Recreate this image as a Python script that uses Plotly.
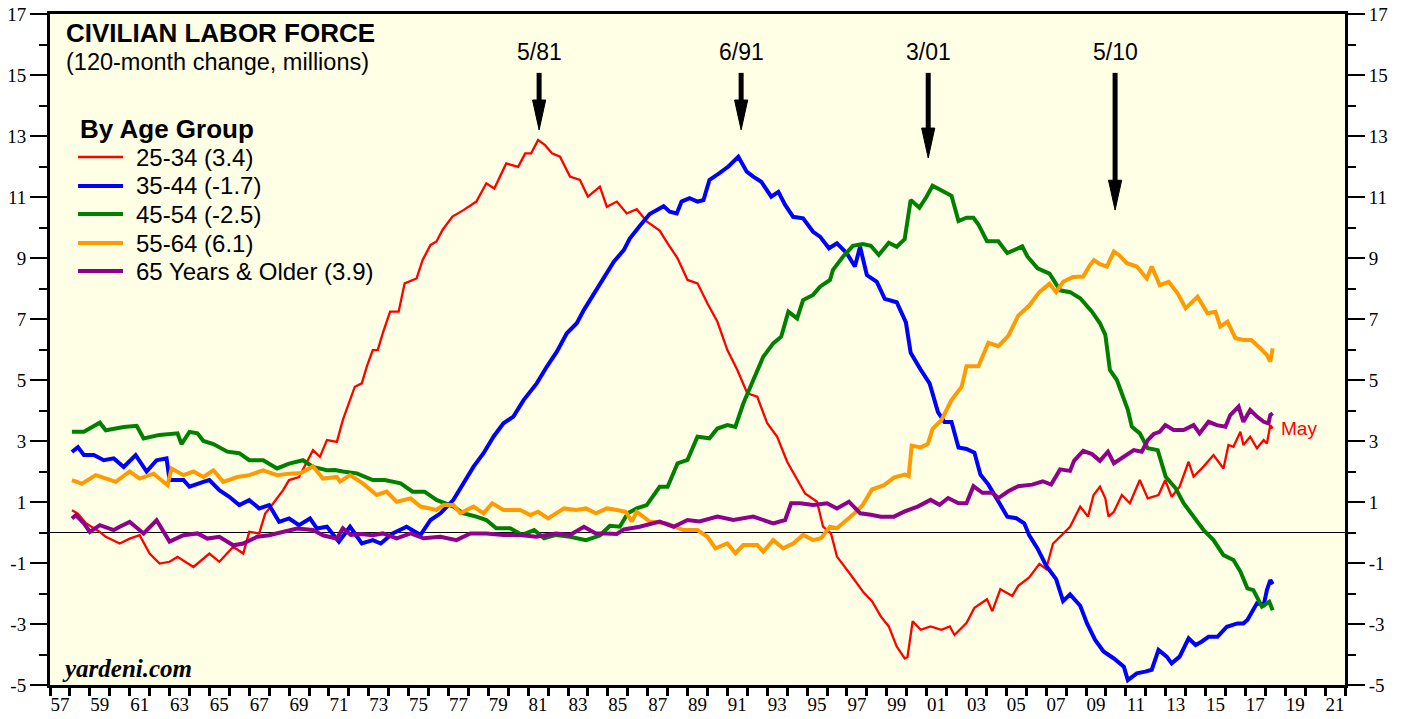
import plotly.graph_objects as go

# ---------------- data (120-month change, millions) ----------------
yrs_2534 = [1958.1,1958.4,1958.8,1959.5,1959.8,1960.5,1961.0,1961.5,1962.0,1962.5,1963.0,1963.4,1964.2,1965.0,1965.5,1966.2,1966.7,1967.0,1967.5,1967.8,1968.2,1968.7,1969.0,1969.5,1970.2,1970.55,1970.9,1971.4,1971.7,1972.0,1972.3,1972.65,1972.9,1973.2,1973.45,1973.7,1974.07,1974.5,1974.8,1975.4,1975.7,1976.1,1976.4,1976.7,1977.2,1977.75,1978.4,1978.9,1979.3,1979.9,1980.5,1980.85,1981.15,1981.5,1981.85,1982.2,1982.6,1983.1,1983.6,1984.0,1984.6,1984.95,1985.45,1985.95,1986.45,1986.95,1987.6,1988.0,1988.5,1989.0,1989.5,1990.0,1990.5,1991.0,1991.5,1992.0,1992.5,1993.0,1993.5,1994.0,1994.5,1994.9,1995.5,1995.8,1996.2,1996.5,1997.16,1997.84,1998.26,1998.7,1999.1,1999.5,1999.9,2000.04,2000.3,2000.7,2001.2,2001.74,2002.16,2002.4,2003.0,2003.4,2004.03,2004.3,2004.7,2005.3,2005.6,2006.15,2006.66,2007.0,2007.34,2007.76,2008.2,2008.71,2009.1,2009.38,2009.7,2009.97,2010.13,2010.4,2010.8,2011.2,2011.7,2012.1,2012.64,2012.98,2013.3,2013.7,2014.15,2014.4,2014.9,2015.4,2015.9,2016.15,2016.4,2016.75,2016.9,2017.24,2017.58,2017.92,2018.08,2018.25,2018.37]
val_2534 = [0.73,0.62,0.30,0.02,-0.14,-0.36,-0.20,-0.09,-0.69,-1.02,-0.96,-0.80,-1.13,-0.69,-0.96,-0.47,-0.69,0.02,-0.03,0.62,0.95,1.39,1.72,1.82,2.70,2.48,3.03,2.97,3.69,4.23,4.78,4.89,5.44,5.98,5.98,6.53,7.24,7.24,8.17,8.33,8.93,9.43,9.54,9.92,10.36,10.57,10.85,11.45,11.28,12.10,11.99,12.43,12.43,12.87,12.70,12.43,12.32,11.67,11.56,11.01,11.34,10.68,10.85,10.46,10.60,10.20,9.90,9.48,8.99,8.28,8.17,7.51,6.91,5.98,5.33,4.56,4.45,3.58,3.14,2.32,1.72,1.28,1.01,0.19,-0.03,-0.79,-1.36,-1.97,-2.25,-2.75,-3.08,-3.74,-4.13,-4.08,-2.91,-3.19,-3.08,-3.19,-3.08,-3.36,-2.97,-2.47,-2.19,-2.58,-1.86,-2.08,-1.75,-1.47,-1.03,-1.20,-0.37,-0.09,0.19,0.85,0.52,1.23,1.50,1.12,0.52,0.68,1.23,0.96,1.72,1.12,1.23,1.72,1.17,1.50,2.32,1.83,2.16,2.54,2.10,2.87,2.81,3.30,2.87,3.14,2.76,3.03,2.92,3.52,3.41]

yrs_3544 = [1958.1,1958.4,1958.7,1959.2,1959.7,1960.2,1960.7,1961.3,1961.85,1962.35,1962.85,1963.0,1963.7,1964.0,1964.7,1965.0,1965.5,1966.0,1966.5,1967.0,1967.5,1968.0,1968.5,1969.0,1969.5,1970.05,1970.4,1970.9,1971.5,1972.06,1972.65,1973.2,1973.6,1974.2,1974.9,1975.6,1976.1,1976.6,1977.25,1977.75,1978.26,1978.76,1979.26,1979.76,1980.26,1980.77,1981.43,1981.94,1982.44,1982.94,1983.44,1983.8,1984.3,1984.8,1985.3,1985.8,1986.1,1986.6,1987.1,1987.8,1988.1,1988.46,1988.7,1989.1,1989.5,1989.8,1990.1,1990.6,1991.05,1991.55,1991.97,1992.3,1992.7,1993.2,1993.56,1993.9,1994.3,1994.8,1995.3,1995.65,1996.1,1996.5,1997.0,1997.4,1997.66,1998.0,1998.5,1998.9,1999.5,1999.96,2000.2,2000.7,2001.15,2001.57,2001.9,2002.25,2002.6,2003.0,2003.4,2003.7,2004.1,2004.6,2005.05,2005.5,2005.9,2006.15,2006.57,2007.0,2007.5,2007.85,2008.2,2008.71,2009.05,2009.46,2009.88,2010.4,2010.9,2011.1,2011.55,2011.97,2012.3,2012.64,2013.05,2013.3,2013.7,2014.15,2014.5,2014.8,2015.15,2015.6,2016.07,2016.6,2016.9,2017.1,2017.58,2017.92,2018.08,2018.25,2018.37]
val_3544 = [2.64,2.80,2.54,2.54,2.37,2.43,2.15,2.54,2.00,2.37,2.43,1.72,1.72,1.50,1.66,1.72,1.39,1.17,0.90,1.06,0.79,0.90,0.35,0.46,0.24,0.46,0.13,0.19,-0.30,0.19,-0.36,-0.25,-0.36,-0.03,0.19,-0.08,0.41,0.63,1.07,1.61,2.16,2.60,3.14,3.58,3.80,4.34,4.89,5.44,5.93,6.53,6.86,7.30,7.84,8.39,8.88,9.26,9.64,10.05,10.44,10.70,10.52,10.46,10.85,10.96,10.85,10.90,11.56,11.78,12.00,12.32,11.83,11.67,11.50,11.01,11.17,10.74,10.35,10.30,9.86,9.70,9.32,9.48,9.15,8.72,9.37,8.44,8.22,7.66,7.55,6.89,5.89,5.34,4.89,3.95,3.62,3.62,2.79,2.74,2.62,1.90,1.57,1.02,0.52,0.47,0.30,-0.09,-0.53,-1.09,-1.53,-2.25,-2.03,-2.40,-2.98,-3.52,-3.90,-4.13,-4.40,-4.84,-4.62,-4.56,-4.50,-3.85,-4.07,-4.29,-4.07,-3.47,-3.69,-3.58,-3.42,-3.42,-3.09,-2.98,-2.98,-2.87,-2.32,-2.38,-1.89,-1.56,-1.70]

yrs_4554 = [1958.1,1958.7,1959.5,1959.8,1960.7,1961.35,1961.7,1962.5,1963.4,1963.6,1964.0,1964.4,1964.7,1965.2,1965.9,1966.5,1967.0,1967.7,1968.4,1969.0,1969.7,1970.2,1970.9,1971.3,1971.7,1972.4,1973.2,1973.8,1974.6,1975.2,1975.8,1976.4,1977.25,1977.75,1978.4,1978.9,1979.4,1980.1,1980.7,1981.3,1981.8,1982.4,1983.1,1983.9,1984.6,1985.1,1985.6,1986.0,1986.45,1986.95,1987.6,1988.0,1988.5,1989.0,1989.5,1990.1,1990.5,1991.0,1991.4,1991.8,1992.3,1992.8,1993.3,1993.7,1994.06,1994.5,1994.8,1995.3,1995.65,1996.15,1996.3,1996.8,1997.3,1997.8,1998.2,1998.6,1999.1,1999.5,1999.9,2000.2,2000.64,2000.98,2001.3,2001.74,2002.25,2002.6,2003.0,2003.35,2003.6,2004.03,2004.6,2005.05,2005.8,2006.06,2006.57,2007.17,2007.7,2008.2,2008.71,2009.3,2009.7,2009.97,2010.2,2010.55,2010.8,2011.1,2011.3,2011.7,2012.1,2012.6,2013.0,2013.5,2013.9,2014.4,2014.9,2015.4,2015.9,2016.4,2016.75,2017.1,2017.4,2017.83,2018.2,2018.37]
val_4554 = [3.30,3.30,3.60,3.35,3.46,3.50,3.08,3.20,3.25,2.90,3.30,3.25,3.00,2.90,2.65,2.60,2.37,2.37,2.10,2.26,2.37,2.15,2.04,2.05,2.00,1.94,1.72,1.72,1.61,1.34,1.34,1.07,0.85,0.63,0.52,0.41,0.14,0.14,-0.08,0.08,-0.19,-0.08,-0.14,-0.25,-0.10,0.22,0.19,0.63,0.79,0.90,1.50,1.50,2.27,2.38,3.14,3.09,3.41,3.52,3.46,4.23,5.00,5.76,6.20,6.42,7.24,7.02,7.62,7.79,8.06,8.28,8.61,9.04,9.40,9.46,9.40,9.10,9.50,9.37,9.62,10.90,10.65,10.99,11.37,11.20,11.04,10.21,10.32,10.32,10.10,9.55,9.55,9.16,9.38,9.05,8.66,8.49,7.94,7.88,7.68,7.24,6.86,6.48,5.33,5.00,4.56,4.02,3.47,3.25,2.76,2.70,1.83,1.45,0.96,0.52,0.08,-0.25,-0.74,-0.90,-1.28,-1.83,-1.89,-2.43,-2.27,-2.55]

yrs_5564 = [1958.1,1958.6,1959.3,1959.8,1960.3,1961.0,1961.5,1962.2,1962.9,1963.1,1963.7,1964.2,1964.7,1965.2,1965.7,1966.4,1967.0,1967.7,1968.4,1969.0,1969.6,1970.2,1970.7,1971.4,1971.56,1972.06,1972.7,1973.4,1973.9,1974.4,1975.1,1975.6,1976.4,1976.75,1977.25,1977.6,1978.26,1978.76,1979.2,1979.76,1980.6,1981.1,1981.5,1982.0,1982.8,1983.4,1983.9,1984.4,1984.95,1985.45,1985.9,1986.2,1986.45,1987.1,1987.95,1988.8,1989.5,1990.0,1990.4,1991.0,1991.4,1991.8,1992.5,1992.8,1993.3,1993.8,1994.3,1994.8,1995.3,1995.7,1996.15,1996.5,1997.0,1997.5,1997.8,1998.26,1998.86,1999.36,1999.9,2000.1,2000.25,2000.7,2001.06,2001.3,2001.74,2002.25,2002.76,2003.0,2003.6,2004.1,2004.6,2005.1,2005.6,2006.15,2006.66,2007.17,2007.5,2007.85,2008.35,2008.86,2009.2,2009.4,2009.7,2010.05,2010.4,2010.65,2011.05,2011.55,2012.05,2012.3,2012.7,2013.15,2013.6,2014.0,2014.6,2015.1,2015.5,2015.74,2016.1,2016.5,2016.9,2017.3,2017.75,2018.08,2018.25,2018.37]
val_5564 = [1.72,1.60,1.88,1.77,1.66,2.00,1.77,1.93,1.55,2.10,1.88,2.00,1.82,2.04,1.66,1.82,1.88,2.04,1.88,1.93,1.95,2.17,1.77,1.82,1.67,1.88,1.61,1.23,1.34,1.01,1.12,0.85,0.74,0.90,0.90,0.63,0.85,0.63,0.96,0.74,0.74,0.57,0.68,0.46,0.79,0.74,0.79,0.63,0.79,0.74,0.68,0.36,0.68,0.36,0.30,0.08,0.08,-0.14,-0.52,-0.36,-0.68,-0.41,-0.41,-0.63,-0.25,-0.52,-0.36,-0.08,-0.25,-0.19,0.19,0.14,0.41,0.70,0.91,1.41,1.55,1.80,1.90,1.85,2.85,2.79,2.90,3.40,3.68,4.34,4.78,5.45,5.45,6.22,6.11,6.45,7.11,7.44,7.88,8.16,7.88,8.22,8.38,8.39,8.77,8.93,8.80,8.72,9.21,9.10,8.83,8.72,8.33,8.72,8.11,8.22,7.84,7.35,7.73,7.19,7.24,6.75,6.91,6.37,6.31,6.31,6.04,5.82,5.60,6.04]

yrs_65up = [1958.1,1958.3,1958.7,1959.0,1959.5,1960.2,1960.5,1961.0,1961.7,1962.35,1963.0,1963.7,1964.4,1964.9,1965.5,1966.2,1966.7,1967.4,1968.0,1968.7,1969.4,1970.2,1970.7,1971.4,1971.7,1972.1,1972.6,1973.2,1973.7,1974.4,1975.1,1975.75,1976.6,1977.4,1978.1,1978.9,1979.76,1980.6,1981.4,1982.4,1983.1,1983.8,1984.4,1984.9,1985.45,1985.8,1986.6,1987.6,1988.3,1989.0,1989.6,1990.5,1991.3,1992.3,1993.3,1993.9,1994.2,1994.65,1995.3,1996.0,1996.5,1997.1,1997.67,1998.2,1998.7,1999.36,1999.9,2000.55,2001.2,2001.65,2002.08,2002.6,2003.0,2003.35,2003.8,2004.3,2004.6,2005.1,2005.6,2006.3,2006.83,2007.25,2007.7,2008.2,2008.4,2008.86,2009.3,2009.7,2010.1,2010.4,2010.9,2011.4,2011.8,2012.1,2012.4,2012.7,2012.98,2013.4,2013.9,2014.4,2014.7,2015.15,2015.57,2016.0,2016.24,2016.66,2016.9,2017.24,2017.58,2017.92,2018.16,2018.25,2018.37]
val_65up = [0.46,0.57,0.30,0.02,0.24,0.08,0.19,0.35,-0.03,0.40,-0.30,-0.09,-0.03,-0.20,-0.14,-0.42,-0.36,-0.14,-0.09,0.02,0.13,0.08,-0.09,-0.20,0.14,-0.08,-0.05,-0.09,-0.03,-0.19,-0.03,-0.19,-0.14,-0.25,-0.03,-0.03,-0.08,-0.08,-0.14,-0.03,-0.08,0.19,-0.03,-0.03,-0.05,0.10,0.19,0.36,0.19,0.41,0.36,0.52,0.41,0.52,0.30,0.41,0.96,0.96,0.90,0.96,0.79,1.01,0.63,0.58,0.52,0.52,0.69,0.85,1.07,0.91,1.13,0.96,0.96,1.52,1.30,1.30,1.13,1.35,1.52,1.57,1.68,1.57,2.07,2.02,2.35,2.68,2.57,2.35,2.65,2.27,2.49,2.70,2.65,3.03,3.23,3.30,3.52,3.36,3.36,3.52,3.25,3.63,3.52,3.47,3.85,4.13,3.63,4.02,3.80,3.63,3.58,3.85,3.91]

series_names = ["25-34 (3.4)", "35-44 (-1.7)", "45-54 (-2.5)", "55-64 (6.1)", "65 Years & Older (3.9)"]

# peaks marked with arrows
event_labels = ["5/81", "6/91", "3/01", "5/10"]
event_years = [1981.55, 1991.69, 2001.08, 2010.46]
event_tips = [13.2, 13.2, 12.28, 10.57]

x_ticklabels = [f"{y % 100:02d}" for y in range(1957, 2022, 2)]

# ---------------- figure ----------------
colors = ["#FF0000", "#0000FF", "#008000", "#FF9A00", "#8E008E"]
widths = [2.3, 4, 4, 4, 4]
xs_all = [yrs_2534, yrs_3544, yrs_4554, yrs_5564, yrs_65up]
ys_all = [val_2534, val_3544, val_4554, val_5564, val_65up]

fig = go.Figure()
for i in range(5):
    fig.add_trace(go.Scatter(
        x=xs_all[i], y=ys_all[i], mode="lines", name=series_names[i],
        line=dict(color=colors[i], width=widths[i]), showlegend=False,
        hoverinfo="skip"))

# invisible trace to activate the right-hand axis
fig.add_trace(go.Scatter(x=yrs_2534[:1], y=val_2534[:1], yaxis="y2", mode="markers",
                         marker=dict(opacity=0), showlegend=False, hoverinfo="skip"))

serif = "Liberation Serif, Times New Roman, serif"
sans = "Liberation Sans, Arial, sans-serif"

YMIN, YMAX = -5, 17
ytick_major = list(range(-5, 18, 2))
ytick_minor = list(range(-4, 17, 2))

yaxis_common = dict(
    range=[YMIN, YMAX], tickmode="array", tickvals=ytick_major,
    ticktext=[str(v) for v in ytick_major], automargin=False,
    ticks="outside", ticklen=17, tickwidth=2, tickcolor="black",
    tickfont=dict(family=serif, size=19, color="black"),
    showgrid=False, showline=True, linecolor="black", linewidth=3,
    minor=dict(tickmode="array", tickvals=ytick_minor, ticks="outside",
               ticklen=8, tickwidth=2, tickcolor="black", showgrid=False),
)

fig.update_layout(
    width=1405, height=719,
    margin=dict(l=50, r=60, t=14, b=34),
    paper_bgcolor="white", plot_bgcolor="#FFFFE6",
    xaxis=dict(
        range=[1957, 2022], tickmode="array", automargin=False,
        tickvals=[y + 0.5 for y in range(1957, 2022, 2)], ticktext=x_ticklabels,
        ticks="", tickfont=dict(family=serif, size=19, color="black"),
        showgrid=False, zeroline=False, showline=True, linecolor="black", linewidth=3,
        mirror=True,
        minor=dict(tickmode="array", tickvals=list(range(1957, 2023)), ticks="outside",
                   ticklen=8, tickwidth=2.5, tickcolor="black", showgrid=False),
    ),
    yaxis=dict(**yaxis_common, zeroline=True, zerolinecolor="black", zerolinewidth=1.2),
    yaxis2=dict(**yaxis_common, overlaying="y", side="right", zeroline=False),
    showlegend=False,
)

def px_to_paper_x(px):
    return (px - 50) / 1295.0

def px_to_paper_y(py):
    return (685 - py) / 671.0

annotations = [
    dict(xref="paper", yref="paper", x=px_to_paper_x(64), y=px_to_paper_y(33), xanchor="left", yanchor="middle",
         text="<b>CIVILIAN LABOR FORCE</b>", showarrow=False,
         font=dict(family=sans, size=26, color="black")),
    dict(xref="paper", yref="paper", x=px_to_paper_x(64), y=px_to_paper_y(62), xanchor="left", yanchor="middle",
         text="(120-month change, millions)", showarrow=False,
         font=dict(family=sans, size=23.5, color="black")),
    dict(xref="paper", yref="paper", x=px_to_paper_x(60), y=px_to_paper_y(668), xanchor="left", yanchor="middle",
         text="<b><i>yardeni.com</i></b>", showarrow=False,
         font=dict(family=serif, size=25, color="black")),
    dict(xref="x", yref="y", x=yrs_2534[-1], y=val_2534[-1], xanchor="left", yanchor="middle",
         xshift=6, text="May", showarrow=False,
         font=dict(family=sans, size=19, color="#FF0000")),
    dict(xref="paper", yref="paper", x=px_to_paper_x(78), y=px_to_paper_y(129), xanchor="left", yanchor="middle",
         text="<b>By Age Group</b>", showarrow=False,
         font=dict(family=sans, size=26, color="black")),
]

shapes = []
# legend keys (manual legend)
legend_rows = [157, 186, 214, 243, 271]
for i, py in enumerate(legend_rows):
    yy = px_to_paper_y(py)
    shapes.append(dict(type="line", xref="paper", yref="paper",
                       x0=px_to_paper_x(78), x1=px_to_paper_x(123), y0=yy, y1=yy,
                       line=dict(color=colors[i], width=widths[i])))
    annotations.append(dict(xref="paper", yref="paper", x=px_to_paper_x(134), y=yy,
                            xanchor="left", yanchor="middle", text=series_names[i], showarrow=False,
                            font=dict(family=sans, size=24, color="black")))

TAIL = 15.07
HEAD_LEN = 0.98   # in y units (~30 px)
HEAD_HALF = 0.33  # in years (~6.5 px)
for lbl, ex, tip in zip(event_labels, event_years, event_tips):
    annotations.append(dict(xref="x", yref="y", x=ex, y=15.75, text=lbl, showarrow=False,
                            xanchor="center", yanchor="middle",
                            font=dict(family=sans, size=23, color="black")))
    shapes.append(dict(type="line", xref="x", yref="y", x0=ex, x1=ex, y0=TAIL, y1=tip + HEAD_LEN * 0.9,
                       line=dict(color="black", width=5)))
    shapes.append(dict(type="path", xref="x", yref="y",
                       path=f"M {ex - HEAD_HALF},{tip + HEAD_LEN} L {ex + HEAD_HALF},{tip + HEAD_LEN} L {ex},{tip} Z",
                       fillcolor="black", line=dict(color="black", width=1)))

fig.update_layout(annotations=annotations, shapes=shapes)

fig.write_html("out.html", config={"displayModeBar": False},
               post_script="document.body.style.margin='0px';document.body.style.overflow='hidden';")
